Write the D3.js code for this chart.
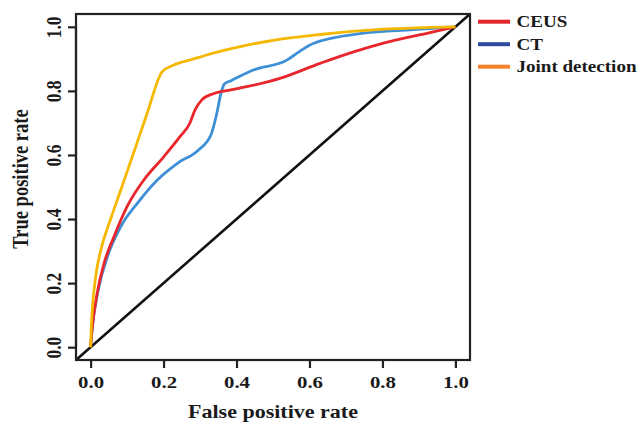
<!DOCTYPE html>
<html>
<head>
<meta charset="utf-8">
<script src="https://cdn.jsdelivr.net/npm/d3@7"></script>
<style>
  body { margin: 0; background: #fff; }
  text { font-family: "Liberation Serif", "Times New Roman", serif; font-weight: bold; fill: #1a1a1a; }
</style>
</head>
<body>
<div id="chart"></div>
<script>
// values
var ceusFpr = [0, 0.003, 0.018, 0.037, 0.064, 0.100, 0.146, 0.201, 0.245, 0.272, 0.286, 0.305, 0.338, 0.384, 0.428, 0.519, 0.629, 0.656, 0.793, 0.930, 1];
var ceusTpr = [0, 0.043, 0.168, 0.262, 0.345, 0.439, 0.522, 0.595, 0.657, 0.699, 0.740, 0.772, 0.792, 0.803, 0.813, 0.839, 0.886, 0.897, 0.946, 0.982, 1];

var ctFpr = [0, 0.005, 0.023, 0.046, 0.0825, 0.128, 0.183, 0.238, 0.295, 0.330, 0.345, 0.358, 0.367, 0.385, 0.446, 0.538, 0.565, 0.610, 0.748, 0.885, 1];
var ctTpr = [0, 0.064, 0.189, 0.282, 0.376, 0.449, 0.522, 0.574, 0.615, 0.663, 0.725, 0.795, 0.822, 0.832, 0.865, 0.896, 0.917, 0.948, 0.980, 0.991, 1];

var jointFpr = [0, 0.002, 0.014, 0.028, 0.055, 0.0825, 0.119, 0.155, 0.1965, 0.2286, 0.283, 0.318, 0.410, 0.500, 0.629, 0.793, 0.930, 1];
var jointTpr = [0, 0.064, 0.220, 0.303, 0.400, 0.490, 0.610, 0.730, 0.860, 0.881, 0.900, 0.912, 0.938, 0.958, 0.976, 0.992, 0.998, 1];

var seriesNames = ["CEUS", "CT", "Joint detection"];
var lineColors = ["#e8262b", "#3d8fd6", "#f5b800"];
var legendColors = ["#e3262b", "#2d4b9f", "#f5812a"];
var xTicks = [0, 0.2, 0.4, 0.6, 0.8, 1.0];
var yTicks = [0, 0.2, 0.4, 0.6, 0.8, 1.0];

var width = 640, height = 424;
var box = {left: 76, right: 470, top: 14, bottom: 360};
var stretch = 1.19; // text in the picture is wider than tall

var series = [
    {fpr: ceusFpr, tpr: ceusTpr},
    {fpr: ctFpr, tpr: ctTpr},
    {fpr: jointFpr, tpr: jointTpr}
];

var x = d3.scaleLinear().domain([-0.04, 1.04]).range([box.left, box.right]);
var y = d3.scaleLinear().domain([-0.04, 1.04]).range([box.bottom, box.top]);

var svg = d3.select("#chart")
    .append("svg")
    .attr("width", width)
    .attr("height", height);

// diagonal reference line, corner to corner
svg.append("line")
    .attr("x1", x(-0.04)).attr("y1", y(-0.04))
    .attr("x2", x(1.04)).attr("y2", y(1.04))
    .attr("stroke", "#111")
    .attr("stroke-width", 2.6);

var line = d3.line()
    .x(function (d) { return x(d[0]); })
    .y(function (d) { return y(d[1]); })
    .curve(d3.curveMonotoneX);

// draw CT and CEUS under Joint detection
[1, 0, 2].forEach(function (i) {
    var s = series[i];
    var pts = s.fpr.map(function (f, j) { return [f, s.tpr[j]]; });
    svg.append("path")
        .datum(pts)
        .attr("d", line)
        .attr("fill", "none")
        .attr("stroke", lineColors[i])
        .attr("stroke-width", 2.8)
        .attr("stroke-linejoin", "round");
});

// box
svg.append("rect")
    .attr("x", box.left).attr("y", box.top)
    .attr("width", box.right - box.left)
    .attr("height", box.bottom - box.top)
    .attr("fill", "none")
    .attr("stroke", "#222")
    .attr("stroke-width", 2.2);

// x axis
var xAxis = svg.append("g")
    .attr("transform", "translate(0," + box.bottom + ")")
    .call(d3.axisBottom(x).tickValues(xTicks).tickSize(8).tickFormat(d3.format(".1f")));
xAxis.select(".domain")
    .attr("d", "M" + x(0) + ",0H" + x(1))
    .attr("stroke", "#222").attr("stroke-width", 2.2);
xAxis.selectAll(".tick line").attr("stroke", "#222").attr("stroke-width", 2.2);
xAxis.selectAll(".tick text")
    .attr("y", 0).attr("dy", "0.35em")
    .attr("transform", "translate(0,22) scale(" + stretch + ",1)")
    .style("font-size", "17.5px")
    .attr("fill", "#1a1a1a");

// y axis
var yAxis = svg.append("g")
    .attr("transform", "translate(" + box.left + ",0)")
    .call(d3.axisLeft(y).tickValues(yTicks).tickSize(8).tickFormat(d3.format(".1f")));
yAxis.select(".domain")
    .attr("d", "M0," + y(0) + "V" + y(1))
    .attr("stroke", "#222").attr("stroke-width", 2.2);
yAxis.selectAll(".tick line").attr("stroke", "#222").attr("stroke-width", 2.2);
yAxis.selectAll(".tick text")
    .attr("x", 0).attr("y", 0).attr("dy", "0.35em")
    .attr("text-anchor", "middle")
    .attr("transform", "translate(-22,0) scale(" + stretch + ",1) rotate(-90)")
    .style("font-size", "17.5px")
    .attr("fill", "#1a1a1a");

// axis titles
svg.append("text")
    .attr("text-anchor", "middle")
    .attr("dy", "0.35em")
    .attr("transform", "translate(" + ((box.left + box.right) / 2) + ",412) scale(" + stretch + ",1)")
    .style("font-size", "18.5px")
    .text("False positive rate");

svg.append("text")
    .attr("text-anchor", "middle")
    .attr("dy", "0.35em")
    .attr("transform", "translate(20,179) scale(" + stretch + ",1) rotate(-90)")
    .style("font-size", "18.5px")
    .text("True positive rate");

// legend
var legend = svg.selectAll(".legend")
    .data(seriesNames)
    .enter().append("g")
    .attr("class", "legend")
    .attr("transform", function (d, i) { return "translate(478," + (21.7 + i * 22.5) + ")"; });

legend.append("line")
    .attr("x1", 0).attr("x2", 32)
    .attr("stroke", function (d, i) { return legendColors[i]; })
    .attr("stroke-width", 4);

legend.append("text")
    .attr("dy", "0.35em")
    .attr("transform", "translate(38.5,0) scale(" + stretch + ",1)")
    .style("font-size", "16px")
    .text(function (d) { return d; });
</script>
</body>
</html>
